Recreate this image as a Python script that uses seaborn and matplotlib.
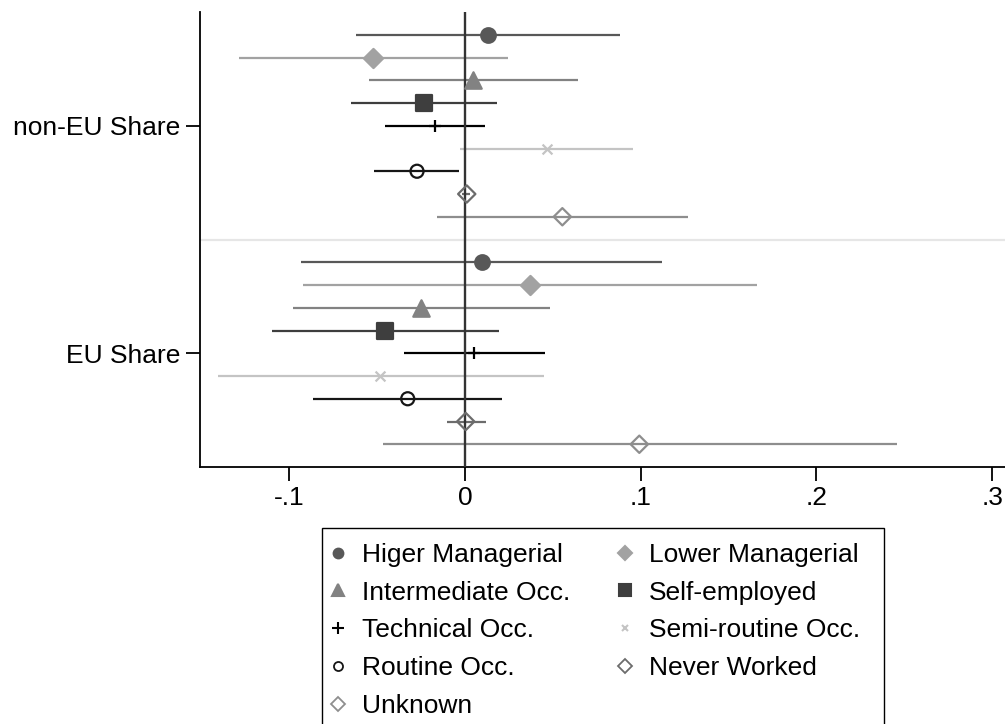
import numpy as np
import pandas as pd
import matplotlib
matplotlib.use("Agg")
import matplotlib.pyplot as plt
from matplotlib.lines import Line2D
from matplotlib.patches import Rectangle
import seaborn as sns

# ---- data ----
categories = ["Higer Managerial", "Lower Managerial", "Intermediate Occ.", "Self-employed",
              "Technical Occ.", "Semi-routine Occ.", "Routine Occ.", "Never Worked", "Unknown"]
groups = ["non-EU Share", "EU Share"]

noneu_coef = [0.0129, -0.0522, 0.0047, -0.0232, -0.0171, 0.0465, -0.0273, 0.0010, 0.0554]
noneu_lo   = [-0.0622, -0.1286, -0.0548, -0.0649, -0.0457, -0.0028, -0.0516, -0.0015, -0.0159]
noneu_hi   = [0.0884, 0.0243, 0.0641, 0.0182, 0.0116, 0.0958, -0.0032, 0.0030, 0.1270]

eu_coef = [0.0095, 0.0370, -0.0250, -0.0453, 0.0053, -0.0482, -0.0326, 0.0004, 0.0992]
eu_lo   = [-0.0933, -0.0920, -0.0979, -0.1100, -0.0345, -0.1405, -0.0863, -0.0101, -0.0468]
eu_hi   = [0.1123, 0.1660, 0.0484, 0.0192, 0.0455, 0.0448, 0.0212, 0.0118, 0.2456]

xticks = [-0.1, 0, 0.1, 0.2, 0.3]
xticklabels = ["-.1", "0", ".1", ".2", ".3"]

# ---- styles ----
colors = ["#585858", "#a2a2a2", "#828282", "#3e3e3e", "#000000", "#c4c4c4", "#161616", "#6c6c6c", "#8e8e8e"]
markers = ["o", "D", "^", "s", "+", "x", "o", "D", "D"]
sizes = [110, 95, 140, 120, 80, 50, 88, 78, 78]
hollow = [False, False, False, False, False, False, True, True, True]
leg_ms = [7.0, 7.5, 8.5, 8.0, 8.0, 5.0, 6.5, 7.0, 7.0]

rows = []
for gi, (coef, lo, hi) in enumerate([(noneu_coef, noneu_lo, noneu_hi), (eu_coef, eu_lo, eu_hi)]):
    for ci, cat in enumerate(categories):
        rows.append(dict(group=groups[gi], cat=cat, coef=coef[ci], lo=lo[ci], hi=hi[ci],
                         y=gi + 1 + (ci - 4) * 0.1))
df = pd.DataFrame(rows)

sns.set_style("white")
plt.rcParams["font.family"] = ["Liberation Sans", "DejaVu Sans"]
plt.rcParams["text.color"] = "black"
plt.rcParams["xtick.color"] = "black"
plt.rcParams["ytick.color"] = "black"
plt.rcParams["axes.labelcolor"] = "black"
fs = 19
fs_px = fs * 100 / 72

fig = plt.figure(figsize=(10.05, 7.24), dpi=100)
ax = fig.add_axes([200 / 1005, 1 - 467 / 724, 1 - 200 / 1005, (467 - 12) / 724])

# separator between groups
ax.axhline(1.5, color="#e6e6e6", lw=1.6, zorder=1)

# CI lines
for ci, cat in enumerate(categories):
    sub = df[df["cat"] == cat]
    ax.hlines(sub["y"], sub["lo"], sub["hi"], color=colors[ci], lw=1.6, zorder=2)

# zero line
ax.axvline(0, color="#333333", lw=1.7, zorder=3)

# markers
for ci, cat in enumerate(categories):
    sub = df[df["cat"] == cat]
    if hollow[ci]:
        sns.scatterplot(data=sub, x="coef", y="y", ax=ax, marker=markers[ci], s=sizes[ci],
                        color=colors[ci], facecolor="none", edgecolor=colors[ci],
                        linewidth=1.6, zorder=4, legend=False)
    else:
        sns.scatterplot(data=sub, x="coef", y="y", ax=ax, marker=markers[ci], s=sizes[ci],
                        color=colors[ci], edgecolor=colors[ci],
                        linewidth=1.6, zorder=4, legend=False)

ax.set_xlim(-0.1508, 0.3073)
ax.set_ylim(2.5, 0.5)
ax.set_yticks([1, 2])
ax.set_yticklabels(groups, fontsize=fs, color="black")
ax.set_xticks(xticks)
ax.set_xticklabels(xticklabels, fontsize=fs, color="black")
ax.set_xlabel("")
ax.set_ylabel("")
for s in ["top", "right"]:
    ax.spines[s].set_visible(False)
for s in ["left", "bottom"]:
    ax.spines[s].set_color("black")
    ax.spines[s].set_linewidth(1.3)
ax.tick_params(axis="both", direction="out", length=10, width=1.3, color="black",
               labelcolor="black", pad=4)
ax.tick_params(axis="x", bottom=True)
ax.tick_params(axis="y", left=True)

# legend
handles = []
for ci, cat in enumerate(categories):
    if hollow[ci]:
        h = Line2D([], [], linestyle="none", marker=markers[ci], markersize=leg_ms[ci],
                   markerfacecolor="none", markeredgecolor=colors[ci], markeredgewidth=1.3, label=cat)
    else:
        h = Line2D([], [], linestyle="none", marker=markers[ci], markersize=leg_ms[ci],
                   color=colors[ci], markeredgecolor=colors[ci], markeredgewidth=1.5, label=cat)
    handles.append(h)
order = [0, 2, 4, 6, 8, 1, 3, 5, 7]
hl = 0.8
anchor_x = 338 - hl * fs_px / 2
leg = fig.legend([handles[i] for i in order], [categories[i] for i in order],
                 ncol=2, loc="upper left", bbox_to_anchor=(anchor_x / 1005, 1 - 543 / 724),
                 fontsize=fs, frameon=False, labelcolor="black",
                 handlelength=hl, handletextpad=0.51, columnspacing=1.68,
                 labelspacing=0.52, borderpad=0, borderaxespad=0)

# legend frame (box runs off the bottom of the image)
frame = Rectangle((322 / 1005, -0.05), (884 - 322) / 1005, (1 - 528 / 724) + 0.05,
                  transform=fig.transFigure, fill=False, edgecolor="black", lw=1.0)
fig.patches.append(frame)

fig.savefig("out.png", dpi=100)
